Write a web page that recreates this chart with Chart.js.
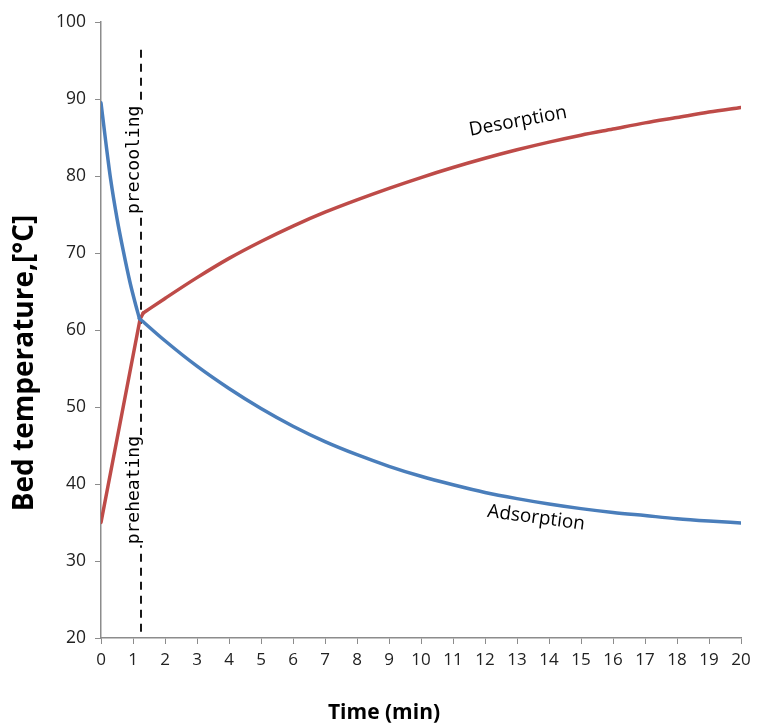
<!DOCTYPE html>
<html>
<head>
<meta charset="utf-8">
<script src="https://cdn.jsdelivr.net/npm/chart.js@4"></script>
<style>
  html, body { margin: 0; padding: 0; background: #fff; }
  #wrap { width: 758px; height: 727px; position: relative; }
</style>
</head>
<body>
<div id="wrap"><canvas id="grafico"></canvas></div>
<script>
// adsorption bed (blue) - precooling part, then adsorption part
const adsPreTime = [0, 0.15, 0.3, 0.5, 0.7, 0.9, 1.05, 1.2];
const adsPreTemp = [89.5, 84.4, 79.6, 74.5, 70.2, 66.3, 63.8, 61.5];
const adsTime = [1.2, 2, 3, 4, 5, 6, 7, 8, 9, 10, 11, 12, 13, 14, 15, 16, 17, 18, 19, 20];
const adsTemp = [61.5, 58.6, 55.3, 52.4, 49.8, 47.5, 45.5, 43.8, 42.3, 41.0, 39.9, 38.9, 38.1, 37.4, 36.8, 36.3, 35.9, 35.5, 35.2, 34.95];

// desorption bed (red) - preheating part, then desorption part
const desPreTime = [0, 1.22, 1.32];
const desPreTemp = [35.0, 61.4, 62.2];
const desTime = [1.32, 2, 3, 4, 5, 6, 7, 8, 9, 10, 11, 12, 13, 14, 15, 16, 17, 18, 19, 20];
const desTemp = [62.2, 64.1, 66.8, 69.3, 71.5, 73.5, 75.3, 76.9, 78.4, 79.8, 81.1, 82.3, 83.4, 84.4, 85.3, 86.1, 86.9, 87.6, 88.3, 88.9];

// switch between precooling/preheating and the main phase
const switchTime = [1.25, 1.25];
const switchTemp = [96.4, 20.6];

const xTicks = [0, 20, 1];     // min, max, step
const yTicks = [20, 100, 10];

const toPts = (xs, ys) => xs.map((x, i) => ({ x, y: ys[i] }));

const azul = "#4a7ebb";
const vermelho = "#be4b48";
const eixo = "#8c8c8c";

// text on the plot
const notas = [
  { txt: "precooling", t: 1.03, v: 82.1, ang: -90, font: "18px 'DejaVu Sans Mono'", fundo: true },
  { txt: "preheating", t: 1.03, v: 39.2, ang: -90, font: "18px 'DejaVu Sans Mono'", fundo: true },
  { txt: "Desorption", t: 13.03, v: 87.1, ang: -10.5, font: "19px 'Open Sans'" },
  { txt: "Adsorption", t: 13.6, v: 35.6, ang: 7.5, font: "19px 'Open Sans'" }
];

const textos = {
  id: "textos",
  afterDatasetsDraw(c) {
    const ctx = c.ctx, x = c.scales.x, y = c.scales.y;
    notas.forEach(n => {
      ctx.save();
      ctx.translate(x.getPixelForValue(n.t), y.getPixelForValue(n.v));
      ctx.rotate(n.ang * Math.PI / 180);
      ctx.font = n.font;
      ctx.textAlign = "center";
      ctx.textBaseline = "middle";
      if (n.fundo) {
        const w = ctx.measureText(n.txt).width;
        ctx.fillStyle = "#fff";
        ctx.fillRect(-w / 2 - 1, -9, w + 2, 19);
      }
      ctx.fillStyle = "#000";
      ctx.fillText(n.txt, 0, 0);
      ctx.restore();
    });
  },
  afterDraw(c) {
    const ctx = c.ctx;
    ctx.save();
    ctx.fillStyle = "#000";
    ctx.textAlign = "center";
    ctx.textBaseline = "middle";
    ctx.font = "bold 21px 'Open Sans'";
    ctx.fillText("Time (min)", 384, 713);
    ctx.translate(25, 363);
    ctx.rotate(-Math.PI / 2);
    ctx.font = "bold 28px 'Open Sans'";
    ctx.fillText("Bed temperature,[°C]", 0, 0);
    ctx.restore();
  }
};

function curva(label, xs, ys, cor) {
  return {
    label,
    data: toPts(xs, ys),
    borderColor: cor,
    borderWidth: 3.5,
    borderCapStyle: "round",
    borderJoinStyle: "round",
    pointRadius: 0,
    cubicInterpolationMode: "monotone",
    fill: false
  };
}

const desPre = curva("Preheating", desPreTime, desPreTemp, vermelho);
desPre.cubicInterpolationMode = "default";
desPre.tension = 0;

new Chart(document.getElementById("grafico"), {
  type: "line",
  data: {
    datasets: [
      curva("Precooling", adsPreTime, adsPreTemp, azul),
      curva("Adsorption", adsTime, adsTemp, azul),
      desPre,
      curva("Desorption", desTime, desTemp, vermelho),
      {
        label: "switch",
        data: toPts(switchTime, switchTemp),
        borderColor: "#000",
        borderWidth: 1.8,
        borderDash: [8, 6],
        pointRadius: 0,
        fill: false
      }
    ]
  },
  options: {
    responsive: true,
    maintainAspectRatio: false,
    animation: false,
    layout: { padding: { top: 22, right: 17, left: 0, bottom: 0 } },
    plugins: { legend: { display: false }, tooltip: { enabled: false } },
    scales: {
      x: {
        type: "linear",
        min: xTicks[0], max: xTicks[1],
        afterFit: s => { s.height = 89; },
        ticks: { stepSize: xTicks[2], color: "#222", font: { family: "Open Sans", size: 17 }, padding: 6, maxRotation: 0 },
        grid: { drawOnChartArea: false, drawTicks: true, tickLength: 6, color: eixo },
        border: { color: eixo, width: 1.5 }
      },
      y: {
        min: yTicks[0], max: yTicks[1],
        afterFit: s => { s.width = 101; },
        ticks: { stepSize: yTicks[2], color: "#222", font: { family: "Open Sans", size: 17.5 }, padding: 9 },
        grid: { drawOnChartArea: false, drawTicks: true, tickLength: 6, color: eixo },
        border: { color: eixo, width: 1.5 }
      }
    }
  },
  plugins: [textos]
});
</script>
</body>
</html>
